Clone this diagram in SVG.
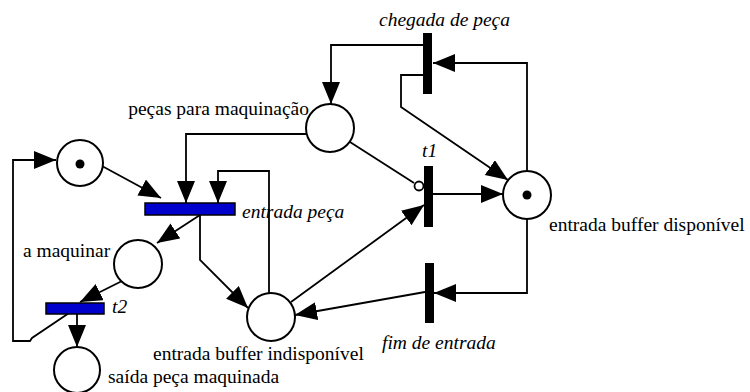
<svg xmlns="http://www.w3.org/2000/svg" width="750" height="392" viewBox="0 0 750 392">
<defs>
<marker id="ah" markerUnits="userSpaceOnUse" markerWidth="24" markerHeight="20" refX="22" refY="9" orient="auto">
<path d="M0,0 L22,9 L0,18 z" fill="#000"/>
</marker>
</defs>
<style>
.pl{fill:#fff;stroke:#000;stroke-width:2}
.tk{fill:#000}
.bk{fill:#000}
.bl{fill:#0000cc;stroke:#000;stroke-width:1.5}
.c{fill:none;stroke:#000;stroke-width:1.8}
.a{marker-end:url(#ah)}
text{font-family:'Liberation Serif','DejaVu Serif','Times New Roman',serif;font-size:19.5px;fill:#000}
.i{font-style:italic}
</style>
<rect width="750" height="392" fill="#fff"/>
<g id="connectors">
<polyline class="c a" points="423,45 331,45 331,104"/>
<polyline class="c a" points="527,172 527,63 433,63"/>
<polyline class="c a" points="423,75 401,75 401,107 508,180"/>
<line class="c" x1="350" y1="142" x2="414" y2="183"/>
<circle cx="419" cy="186" r="4.5" fill="#fff" stroke="#000" stroke-width="1.8"/>
<line class="c a" x1="433" y1="194" x2="503" y2="194"/>
<line class="c a" x1="291" y1="302" x2="424" y2="205"/>
<polyline class="c a" points="527,219 527,293 434,293"/>
<line class="c a" x1="425" y1="292" x2="295" y2="315"/>
<line class="c a" x1="102" y1="166" x2="161" y2="198"/>
<polyline class="c a" points="307,134 186,134 186,203"/>
<polyline class="c a" points="269,293 269,171 218,171 218,203"/>
<line class="c a" x1="200" y1="215" x2="157" y2="243"/>
<polyline class="c a" points="200,215 200,260 248,308"/>
<line class="c a" x1="122" y1="281" x2="80" y2="302"/>
<line class="c a" x1="77" y1="309" x2="77" y2="347"/>
<polyline class="c a" points="75,309 32,338 30,341 13,341 13,160 56,160"/>
</g>
<g id="p_token"><circle class="pl" cx="80" cy="163" r="23"/><circle class="tk" cx="80" cy="164" r="4.5"/></g>
<g id="p_pecas"><circle class="pl" cx="330" cy="128" r="24"/><text x="309" y="115" text-anchor="end">peças para maquinação</text></g>
<g id="p_disponivel"><circle class="pl" cx="527" cy="195" r="24"/><circle class="tk" cx="527" cy="195" r="4.5"/><text x="549" y="231">entrada buffer disponível</text></g>
<g id="p_maquinar"><circle class="pl" cx="138" cy="264" r="24"/><text x="23" y="257">a maquinar</text></g>
<g id="p_indisponivel"><circle class="pl" cx="271" cy="317" r="24"/><text x="153" y="360">entrada buffer indisponível</text></g>
<g id="p_saida"><circle class="pl" cx="77" cy="370" r="23"/><text x="108" y="383">saída peça maquinada</text></g>
<g id="t_chegada"><rect class="bk" x="423" y="33" width="9" height="61"/><text class="i" x="379" y="26">chegada de peça</text></g>
<g id="t_t1"><rect class="bk" x="424" y="166" width="9" height="61"/><text class="i" x="422" y="157">t1</text></g>
<g id="t_fim"><rect class="bk" x="425" y="263" width="9" height="60"/><text class="i" x="382" y="349">fim de entrada</text></g>
<g id="t_entrada"><rect class="bl" x="145" y="203" width="90" height="12"/><text class="i" x="242" y="218">entrada peça</text></g>
<g id="t_t2"><rect class="bl" x="46" y="303" width="58" height="11"/><text class="i" x="112" y="313">t2</text></g>
</svg>
